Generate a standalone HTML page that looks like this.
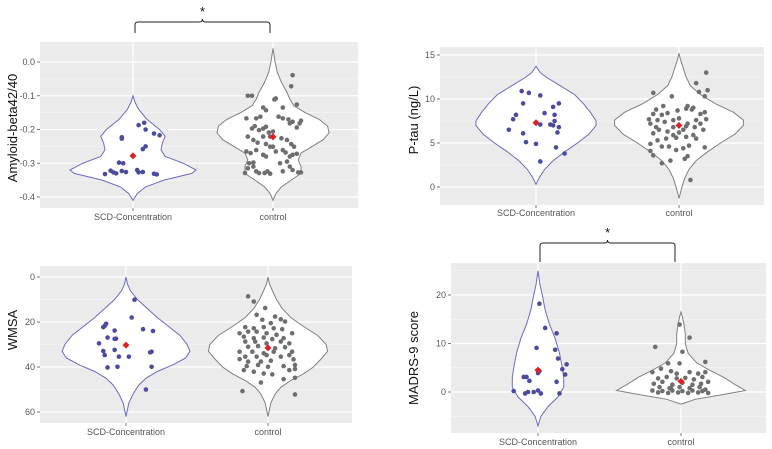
<!DOCTYPE html>
<html><head><meta charset="utf-8"><style>
body{margin:0;background:#fff;}
svg{display:block;font-family:"Liberation Sans",sans-serif;}
</style></head><body>
<svg id="chart" width="772" height="449" viewBox="0 0 772 449" xmlns="http://www.w3.org/2000/svg"></svg>
<script>
// ---------- DATA ----------
const categories = ["SCD-Concentration", "control"];
// Panel 1: Amyloid-beta42/40
const p1Ticks = [0, -0.1, -0.2, -0.3, -0.4];
const p1TickLabels = ["0.0", "-0.1", "-0.2", "-0.3", "-0.4"];
const p1ScdValues = [-0.332,-0.322,-0.327,-0.330,-0.323,-0.326,-0.298,-0.300,-0.223,-0.227,-0.187,-0.180,-0.200,-0.258,-0.250,-0.212,-0.217,-0.320,-0.327,-0.326,-0.331,-0.333];
const p1ScdJitter = [-0.2,-0.16,-0.14,-0.12,-0.08,-0.05,-0.1,-0.07,-0.08,-0.08,0.04,0.08,0.09,0.07,0.09,0.15,0.19,0.03,0.04,0.07,0.15,0.17];
const p1CtlValues = [-0.100,-0.100,-0.135,-0.143,-0.167,-0.162,-0.111,-0.108,-0.135,-0.039,-0.072,-0.126,-0.167,-0.197,-0.190,-0.202,-0.197,-0.192,-0.209,-0.221,-0.206,-0.162,-0.167,-0.170,-0.182,-0.177,-0.194,-0.182,-0.174,-0.221,-0.231,-0.239,-0.221,-0.243,-0.251,-0.265,-0.226,-0.231,-0.243,-0.251,-0.265,-0.270,-0.261,-0.275,-0.280,-0.251,-0.261,-0.268,-0.280,-0.275,-0.272,-0.300,-0.310,-0.324,-0.329,-0.329,-0.324,-0.331,-0.324,-0.310,-0.320,-0.327,-0.327,-0.329,-0.315,-0.298,-0.300,-0.295];
const p1CtlJitter = [-0.18,-0.15,-0.07,-0.05,-0.12,-0.09,0.01,0.02,0.07,0.14,0.13,0.17,-0.19,-0.15,-0.13,-0.10,-0.07,-0.05,-0.03,-0.02,0,0.04,0.07,0.11,0.12,0.14,0.17,0.19,0.2,-0.18,-0.14,-0.11,-0.07,-0.05,0,0.02,0.06,0.10,0.13,0.15,-0.19,-0.16,-0.12,-0.07,-0.05,-0.02,0.07,0.09,0.12,0.14,0.17,-0.17,-0.14,-0.12,-0.10,-0.06,-0.04,-0.02,0.07,0.12,0.14,0.18,0.2,-0.2,-0.18,-0.14,0.05,0.10];
const p1ScdViolin = [[-0.41,0],[-0.39,0.03],[-0.37,0.09],[-0.35,0.22],[-0.33,0.42],[-0.32,0.45],[-0.30,0.36],[-0.28,0.23],[-0.26,0.2],[-0.24,0.21],[-0.22,0.23],[-0.20,0.19],[-0.17,0.1],[-0.14,0.04],[-0.12,0.015],[-0.10,0]];
const p1CtlViolin = [[-0.41,0],[-0.39,0.02],[-0.37,0.06],[-0.35,0.13],[-0.33,0.2],[-0.31,0.2],[-0.29,0.18],[-0.27,0.2],[-0.25,0.28],[-0.23,0.36],[-0.21,0.4],[-0.19,0.39],[-0.17,0.33],[-0.15,0.23],[-0.13,0.15],[-0.11,0.12],[-0.09,0.1],[-0.06,0.06],[-0.03,0.03],[0.0,0.015],[0.04,0]];
const p1Means = [-0.278, -0.222];
// Panel 2: P-tau
const p2Ticks = [0, 5, 10, 15];
const p2TickLabels = ["0", "5", "10", "15"];
const p2ScdValues = [10.9,10.7,10.4,9.5,9.5,9.1,8.2,8.4,8.2,7.7,7.5,7.1,7.1,7.0,6.8,6.5,6.2,6.1,5.1,4.9,4.5,3.8,2.9];
const p2ScdJitter = [-0.1,-0.05,0.03,-0.09,0.16,0.12,-0.14,0.06,0.13,-0.16,0.13,0.03,0.1,0.12,0.16,-0.19,0.15,-0.09,-0.07,0,0.14,0.2,0.03];
const p2CtlValues = [10.7,10.3,13.0,11.8,10.8,11.0,10.3,0.8,2.7,3.0,3.2,3.6,3.5,4.1,4.6,4.6,4.2,4.4,4.7,4.5,4.9,5.3,5.5,5.6,5.7,5.5,6.1,6.5,6.3,6.8,6.5,6.8,6.5,7.2,7.6,7.4,7.6,7.8,7.2,7.6,7.7,8.3,8.2,8.4,8.7,8.9,9.0,8.3,8.5,8.8,9.2,9.2,8.8,7.7,6.8,5.9,6.2,5.9,6.9,7.2];
const p2CtlJitter = [-0.18,-0.05,0.19,0.12,0.14,0.2,0.18,0.08,-0.12,-0.06,0.04,-0.18,0.06,-0.2,-0.12,-0.07,-0.02,0.03,0.07,0.18,-0.2,-0.15,-0.09,-0.02,0.05,0.12,-0.18,-0.14,-0.08,-0.04,0.03,0.11,0.17,-0.2,-0.15,-0.1,-0.04,0,0.06,0.12,0.19,-0.18,-0.12,-0.08,-0.01,0.05,0.1,0.15,0.18,-0.16,-0.11,0.06,0.09,-0.21,-0.16,-0.04,0,0.1,0.05,0.15];
const p2ScdViolin = [[0.3,0],[1,0.02],[2,0.06],[3,0.12],[4,0.2],[5,0.29],[6,0.37],[7,0.42],[7.5,0.42],[8.5,0.38],[9.5,0.33],[10.5,0.27],[11.5,0.17],[12.5,0.07],[13,0.03],[13.7,0]];
const p2CtlViolin = [[-1.3,0],[0,0.02],[1,0.04],[2,0.07],[3,0.12],[4,0.2],[5,0.29],[6,0.39],[7,0.45],[7.6,0.45],[8.5,0.38],[9.5,0.25],[10.5,0.15],[11.5,0.08],[12.5,0.05],[13.5,0.03],[14.5,0.01],[15.2,0]];
const p2Means = [7.3, 7.0];
// Panel 3: WMSA (reversed axis)
const p3Ticks = [0, 20, 40, 60];
const p3TickLabels = ["0", "20", "40", "60"];
const p3ScdValues = [10.1,18,21.7,20.8,22.3,23.8,23.2,24,26.9,27.5,27.4,29.5,32.4,32.9,34.7,33.5,33.2,35.4,35.4,40.2,39.9,39.9,50];
const p3ScdJitter = [0.06,0.04,-0.15,-0.14,-0.16,-0.08,0.12,0.19,-0.13,-0.08,-0.07,-0.19,-0.08,-0.16,-0.15,0.17,0.18,-0.05,0.02,-0.13,-0.06,0.18,0.14];
const p3CtlValues = [8.6,10.9,13.8,16.8,17.6,18.8,19.8,19,20.5,22.3,22.8,22.3,22.8,23.2,25,24.3,24.3,25,25.7,25,26.5,27.2,26.9,27.6,27.2,28.7,28.7,29.5,28.7,29.5,31,30.7,31.7,31.2,33.2,33.2,33.9,33.2,33.2,35.4,35.4,34.7,35.4,34.7,36.5,37.6,37.6,37.2,36.6,39.6,39.1,39.9,39.6,39.1,41.4,42.1,42.9,43.3,41.4,40.9,46.9,45.4,44.8,50.7,52.2];
const p3CtlJitter = [-0.14,-0.1,-0.02,-0.08,0.05,0.09,0.12,-0.04,0.02,-0.16,-0.1,-0.03,0.04,0.1,-0.2,-0.14,-0.08,-0.01,0.06,0.17,-0.17,-0.1,-0.03,0.03,0.11,-0.16,-0.09,-0.01,0.09,0.15,-0.14,-0.07,0.05,0.12,-0.2,-0.11,-0.03,0.04,0.17,-0.16,-0.08,-0.01,0.09,0.15,-0.2,-0.14,-0.05,0.02,0.18,-0.15,-0.07,0,0.11,0.19,-0.17,-0.1,-0.03,0.03,0.15,0.19,-0.05,0.11,0.19,-0.18,0.19];
const p3ScdViolin = [[0,0],[3,0.01],[6,0.03],[10,0.08],[14,0.15],[18,0.22],[22,0.3],[26,0.38],[30,0.43],[33,0.45],[36,0.42],[39,0.33],[42,0.22],[45,0.14],[48,0.09],[52,0.05],[56,0.02],[62,0]];
const p3CtlViolin = [[0,0],[3,0.01],[6,0.03],[10,0.06],[14,0.1],[18,0.16],[22,0.25],[26,0.35],[30,0.41],[33,0.42],[36,0.38],[40,0.32],[43,0.25],[46,0.16],[49,0.09],[52,0.05],[56,0.02],[62,0]];
const p3Means = [30.3, 31.5];
// Panel 4: MADRS-9
const p4Ticks = [0, 10, 20];
const p4TickLabels = ["0", "10", "20"];
const p4ScdValues = [0.2,-0.3,0,0,0.3,-0.3,3.1,3.1,2.3,3.9,4.3,9.1,18.2,13.2,12.1,8.7,6.9,5.7,4.7,3.6,2.1,-0.3];
const p4ScdJitter = [-0.17,-0.09,-0.07,-0.03,0,0.02,-0.1,-0.08,-0.06,0,0.01,-0.01,0.01,0.05,0.13,0.12,0.14,0.2,0.17,0.19,0.13,0.15];
const p4CtlValues = [9.3,13.9,11.2,8.3,6.2,4.1,4.8,5.9,5.9,4.3,4.1,3.8,4.1,2.8,3.1,2.8,2.9,2.6,3.1,1.7,2.1,1.5,1.9,1.5,1.7,2.1,0.3,-0.1,0.2,-0.2,0.3,-0.1,0.2,-0.2,0.3,-0.1,0.2,-0.2,1,0.8,1,0.8,1,0.7,0.5,3.8];
const p4CtlJitter = [-0.18,-0.01,0.06,0.01,0.17,-0.2,-0.14,-0.09,-0.01,-0.07,0.06,0.12,0.17,-0.16,-0.1,-0.03,0.03,0.09,0.15,-0.19,-0.13,-0.06,0.01,0.08,0.14,0.19,-0.2,-0.16,-0.13,-0.09,-0.06,-0.02,0.01,0.05,0.08,0.12,0.15,0.19,-0.15,-0.08,-0.01,0.06,0.13,-0.07,0.17,-0.03];
const p4ScdViolin = [[-7,0],[-5,0.02],[-3,0.07],[-1,0.14],[1,0.18],[3,0.18],[5,0.17],[8,0.15],[11,0.12],[14,0.08],[17,0.05],[20,0.03],[22,0.015],[25,0]];
const p4CtlViolin = [[-2.5,0],[-1.5,0.1],[-0.5,0.3],[0.3,0.45],[1.5,0.38],[3,0.3],[4.5,0.2],[6,0.11],[8,0.05],[10,0.03],[12,0.03],[14,0.02],[15.5,0.01],[16.5,0]];
const p4Means = [4.5, 2.2];

// ---------- RENDER ----------
const NS = "http://www.w3.org/2000/svg";
const svg = document.getElementById("chart");
function mk(tag, attrs, parent){const e=document.createElementNS(NS,tag);for(const k in attrs)e.setAttribute(k,attrs[k]);(parent||svg).appendChild(e);return e;}

const panels = [
 {id:"amyloid",title:"Amyloid-beta42/40",box:[40,42,358,208],v0:0,y0:62,v1:-0.4,y1:197,cx:[133,273],ticks:p1Ticks,labels:p1TickLabels,
  scd:[p1ScdValues,p1ScdJitter,p1ScdViolin],ctl:[p1CtlValues,p1CtlJitter,p1CtlViolin],means:p1Means,tx:17,ty:128,xl:220},
 {id:"ptau",title:"P-tau (ng/L)",box:[440,47,764,205],v0:15,y0:55,v1:0,y1:187,cx:[536,679],ticks:p2Ticks,labels:p2TickLabels,
  scd:[p2ScdValues,p2ScdJitter,p2ScdViolin],ctl:[p2CtlValues,p2CtlJitter,p2CtlViolin],means:p2Means,tx:418,ty:120,xl:216},
 {id:"wmsa",title:"WMSA",box:[40,266,352,423],v0:0,y0:277,v1:60,y1:412,cx:[126,268],ticks:p3Ticks,labels:p3TickLabels,
  scd:[p3ScdValues,p3ScdJitter,p3ScdViolin],ctl:[p3CtlValues,p3CtlJitter,p3CtlViolin],means:p3Means,tx:17,ty:330,xl:435},
 {id:"madrs",title:"MADRS-9 score",box:[451,263,766,433],v0:20,y0:295,v1:0,y1:392,cx:[538,681],ticks:p4Ticks,labels:p4TickLabels,
  scd:[p4ScdValues,p4ScdJitter,p4ScdViolin],ctl:[p4CtlValues,p4CtlJitter,p4CtlViolin],means:p4Means,tx:418,ty:358,xl:445}
];

panels.forEach(p=>{
  const g = mk("g",{});
  
  
  const yS = v => p.y0 + (v-p.v0)*(p.y1-p.y0)/(p.v1-p.v0);
  const catW = p.cx[1]-p.cx[0];
  const [x0,yt,x1,yb] = p.box;
  const bg = mk("rect",{x:x0,y:yt,width:x1-x0,height:yb-yt,fill:"#ebebeb"},g);
  
  
  const step = p.ticks[1]-p.ticks[0];
  for(let k=-1;k<=p.ticks.length;k++){
    const v = p.ticks[0] + step*(k+0.5);
    const y = yS(v);
    if(y>yt+1 && y<yb-1) mk("line",{x1:x0,x2:x1,y1:y,y2:y,stroke:"#fafafa","stroke-width":0.6},g);
  }
  p.ticks.forEach((v,i)=>{
    const y=yS(v);
    mk("line",{x1:x0,x2:x1,y1:y,y2:y,stroke:"#fff","stroke-width":1.2},g);
    mk("line",{x1:x0-3,x2:x0,y1:y,y2:y,stroke:"#555","stroke-width":0.8},g);
    const t=mk("text",{x:x0-5,y:y+3,"text-anchor":"end","font-size":9,fill:"#555"},g);
    t.textContent=p.labels[i];
    
    
  });
  categories.forEach((c,i)=>{
    mk("line",{x1:p.cx[i],x2:p.cx[i],y1:yt,y2:yb,stroke:"#fff","stroke-width":1.2},g);
    mk("line",{x1:p.cx[i],x2:p.cx[i],y1:yb,y2:yb+3,stroke:"#555","stroke-width":0.8},g);
    const t=mk("text",{x:p.cx[i],y:p.xl,"text-anchor":"middle","font-size":9,fill:"#555"},g);
    t.textContent=c;
    
    
  });
  [[p.scd,"#6b6bc0","#4a4aa0",0],[p.ctl,"#808080","#6e6e6e",1]].forEach(([grp,lc,pc,i])=>{
    const [vals,jit,vio]=grp;
    const cx=p.cx[i];
    let d="";
    vio.forEach((pt,k)=>{d+=(k?"L":"M")+(cx+pt[1]*catW).toFixed(1)+","+yS(pt[0]).toFixed(1);});
    for(let k=vio.length-1;k>=0;k--){d+="L"+(cx-vio[k][1]*catW).toFixed(1)+","+yS(vio[k][0]).toFixed(1);}
    const path=mk("path",{d:d+"Z",fill:"#fff",stroke:lc,"stroke-width":1},g);
    
    
    vals.forEach((v,k)=>{
      const c=mk("circle",{cx:cx+jit[k]*catW,cy:yS(v),r:2.3,fill:pc},g);
      
      
    });
    const m=p.means[i], my=yS(m);
    const dm=mk("path",{d:`M${cx},${my-3.5}L${cx+3.5},${my}L${cx},${my+3.5}L${cx-3.5},${my}Z`,fill:"#e02020"},g);
    
    
  });
  const tt=mk("text",{x:p.tx,y:p.ty,"text-anchor":"middle","font-size":13,fill:"#111",transform:`rotate(-90 ${p.tx} ${p.ty})`},g);
  tt.textContent=p.title;
  
  
});

function bracket(xa,xb,yTop,yLeg,name){
  const xm=(xa+xb)/2;
  const p=mk("path",{d:`M${xa},${yLeg}L${xa},${yTop+3}Q${xa},${yTop} ${xa+3},${yTop}L${xm-3},${yTop}Q${xm},${yTop} ${xm},${yTop-3}Q${xm},${yTop} ${xm+3},${yTop}L${xb-3},${yTop}Q${xb},${yTop} ${xb},${yTop+3}L${xb},${yLeg}`,fill:"none",stroke:"#222","stroke-width":1});
  
  
  const t=mk("text",{x:xm,y:yTop-6,"text-anchor":"middle","font-size":13,fill:"#111"});
  t.textContent="*";
  
  
}
bracket(135,270,22,33,"amyloid");
bracket(540,675,243,262,"madrs");
</script>
</body></html>
